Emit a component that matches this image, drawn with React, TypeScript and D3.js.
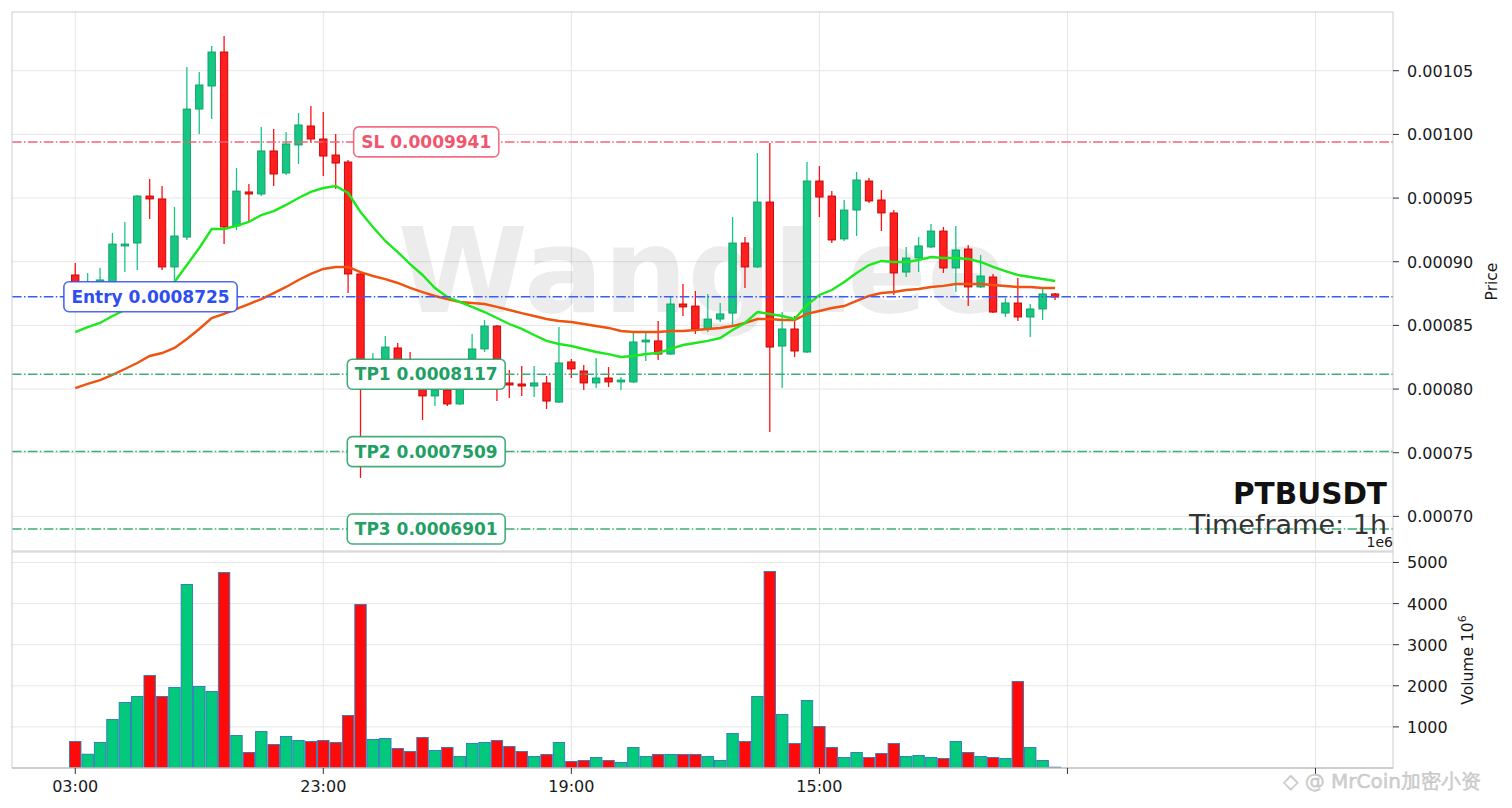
import { useEffect, useRef, useState } from 'react'
import * as d3 from 'd3'

// hourly candles, first one at 03:00
const symbol = 'PTBUSDT'
const timeframe = '1h'

const opens = [
  0.0008896, 0.0008762, 0.0008794, 0.0008825, 0.0009124, 0.0009147, 0.0009516, 0.0009493, 0.0008959, 0.0009194,
  0.0010199, 0.001038, 0.0010647, 0.0009281, 0.0009548, 0.0009532, 0.000987, 0.0009697, 0.0009917, 0.0010066,
  0.0009964, 0.0009838, 0.0009783, 0.0008904, 0.0008134, 0.0008134, 0.0008323, 0.0008165, 0.0008071, 0.0007946,
  0.0007993, 0.0007883, 0.0008087, 0.0008315, 0.0008495, 0.0008048, 0.000804, 0.0008024, 0.0008048, 0.0007898,
  0.0008213, 0.0008142, 0.0008048, 0.0008087, 0.0008056, 0.0008056, 0.000837, 0.0008378, 0.0008275, 0.0008668,
  0.0008652, 0.0008472, 0.000855, 0.0008597, 0.0009147, 0.0008959, 0.0009469, 0.0008338, 0.0008472, 0.0008291,
  0.0009634, 0.0009516, 0.0009179, 0.0009406, 0.0009634, 0.0009485, 0.0009383, 0.0008919, 0.0009029, 0.0009116,
  0.0009241, 0.0008951, 0.00091, 0.0008802, 0.000888, 0.0008597, 0.0008676, 0.0008566, 0.0008629, 0.0008747,
]
const highs = [
  0.000899, 0.0008912, 0.0008951, 0.0009226, 0.0009312, 0.0009524, 0.000965, 0.0009595, 0.000943, 0.0010529,
  0.001049, 0.0010694, 0.0010773, 0.0009736, 0.000961, 0.0010058, 0.0010042, 0.0010019, 0.0010168, 0.0010223,
  0.0010176, 0.0010003, 0.0009799, 0.0008919, 0.0008283, 0.0008417, 0.0008362, 0.0008291, 0.0008103, 0.0008032,
  0.0008024, 0.0008134, 0.0008433, 0.0008542, 0.0008503, 0.000815, 0.0008181, 0.0008181, 0.0008103, 0.0008487,
  0.0008236, 0.0008189, 0.0008244, 0.0008173, 0.0008095, 0.000844, 0.0008448, 0.0008535, 0.0008731, 0.0008825,
  0.000877, 0.0008747, 0.0008676, 0.0009351, 0.0009194, 0.0009854, 0.0009932, 0.0008605, 0.0008574, 0.0009783,
  0.0009752, 0.0009555, 0.0009485, 0.0009705, 0.0009658, 0.0009563, 0.0009406, 0.0009116, 0.0009194, 0.0009296,
  0.0009273, 0.0009281, 0.0009131, 0.0009053, 0.0008904, 0.0008715, 0.0008872, 0.0008668, 0.0008786, 0.0008754,
]
const lows = [
  0.0008731, 0.0008715, 0.0008747, 0.0008778, 0.0008919, 0.0008935, 0.0009336, 0.0008935, 0.0008841, 0.0009171,
  0.0010003, 0.0010121, 0.0009139, 0.0009249, 0.0009312, 0.0009516, 0.0009595, 0.0009681, 0.0009768, 0.0009932,
  0.0009673, 0.0009571, 0.0008754, 0.0007302, 0.0008087, 0.0008071, 0.0008087, 0.000804, 0.0007757, 0.0007867,
  0.0007867, 0.0007875, 0.0008056, 0.0008291, 0.0007906, 0.000793, 0.0007946, 0.0007938, 0.0007844, 0.0007891,
  0.0008087, 0.0007993, 0.0008008, 0.0008016, 0.0007993, 0.0008048, 0.000822, 0.0008228, 0.0008268, 0.0008574,
  0.0008433, 0.0008448, 0.0008527, 0.0008503, 0.0008794, 0.0008951, 0.0007663, 0.0008008, 0.0008252, 0.0008283,
  0.0009351, 0.0009147, 0.0009163, 0.0009202, 0.0009461, 0.0009241, 0.0008739, 0.000888, 0.0008919, 0.0009108,
  0.0008912, 0.0008762, 0.0008652, 0.0008794, 0.0008597, 0.0008566, 0.0008535, 0.0008409, 0.0008542, 0.00087,
]
const closes = [
  0.0008778, 0.0008825, 0.0008857, 0.0009139, 0.0009139, 0.0009516, 0.0009493, 0.0008959, 0.0009202, 0.0010199,
  0.0010388, 0.0010647, 0.0009273, 0.0009555, 0.0009532, 0.000987, 0.0009689, 0.0009925, 0.0010074, 0.0009964,
  0.000983, 0.0009775, 0.0008904, 0.000815, 0.0008213, 0.000833, 0.000815, 0.0008087, 0.0007946, 0.0007993,
  0.0007883, 0.0008087, 0.0008315, 0.0008495, 0.0008134, 0.0008032, 0.0008024, 0.0008048, 0.0007906, 0.0008205,
  0.0008158, 0.0008048, 0.0008087, 0.0008056, 0.0008071, 0.000837, 0.0008385, 0.0008275, 0.0008668, 0.0008645,
  0.0008472, 0.000855, 0.000859, 0.0009147, 0.0008959, 0.0009469, 0.000833, 0.0008472, 0.0008299, 0.0009634,
  0.0009508, 0.0009171, 0.0009406, 0.0009642, 0.0009477, 0.0009383, 0.0008912, 0.0009029, 0.0009124, 0.0009241,
  0.0008951, 0.0009092, 0.0008802, 0.0008888, 0.0008605, 0.0008676, 0.0008566, 0.0008629, 0.0008747, 0.0008723,
]
// volume in millions (axis shows x1e6)
const volumes = [
  645, 336, 620, 1180, 1594, 1740, 2250, 1740, 1959, 4465,
  1983, 1861, 4757, 791, 377, 888, 572, 766, 669, 645,
  669, 620, 1277, 3978, 693, 718, 474, 401, 742, 426,
  499, 280, 596, 620, 669, 523, 401, 280, 328, 620,
  158, 182, 255, 182, 134, 499, 280, 328, 328, 328,
  328, 280, 182, 839, 645, 1740, 4781, 1302, 596, 1642,
  1010, 499, 255, 377, 255, 353, 596, 280, 304, 255,
  231, 645, 377, 280, 255, 231, 2105, 499, 182, 20,
]
const maFast = [
  0.0008448, 0.0008487, 0.0008519, 0.0008574, 0.0008621, 0.0008676, 0.0008723, 0.0008786, 0.0008841, 0.0008974,
  0.0009108, 0.0009257, 0.0009257, 0.0009281, 0.0009312, 0.0009367, 0.0009398, 0.0009446, 0.0009501, 0.0009548,
  0.0009579, 0.0009595, 0.000954, 0.0009391, 0.0009273, 0.0009163, 0.0009076, 0.0008982, 0.0008896, 0.0008794,
  0.0008723, 0.0008684, 0.0008645, 0.0008605, 0.0008558, 0.0008511, 0.0008472, 0.0008425, 0.0008378, 0.0008354,
  0.0008338, 0.0008315, 0.0008291, 0.0008275, 0.0008252, 0.000826, 0.0008275, 0.0008283, 0.0008315, 0.0008346,
  0.0008362, 0.0008378, 0.0008401, 0.0008464, 0.0008519, 0.0008605, 0.000859, 0.0008574, 0.000855, 0.000866,
  0.0008739, 0.0008778, 0.0008841, 0.0008912, 0.0008974, 0.0009006, 0.0008998, 0.0008998, 0.0009014, 0.0009037,
  0.0009029, 0.0009029, 0.0009022, 0.0008998, 0.0008959, 0.0008927, 0.0008896, 0.000888, 0.0008864, 0.0008849,
]
const maSlow = [
  0.0008008, 0.000804, 0.0008071, 0.0008111, 0.0008158, 0.0008205, 0.000826, 0.0008283, 0.0008323, 0.0008393,
  0.0008472, 0.0008558, 0.000859, 0.0008629, 0.0008668, 0.0008707, 0.0008754, 0.0008802, 0.0008857, 0.0008904,
  0.0008943, 0.0008959, 0.0008959, 0.0008919, 0.0008888, 0.0008864, 0.0008833, 0.0008794, 0.0008762, 0.0008731,
  0.0008707, 0.0008684, 0.0008676, 0.0008668, 0.0008645, 0.0008621, 0.0008597, 0.0008574, 0.000855, 0.0008535,
  0.0008527, 0.0008511, 0.0008495, 0.000848, 0.0008456, 0.0008448, 0.0008448, 0.0008448, 0.0008456, 0.0008456,
  0.0008464, 0.0008472, 0.000848, 0.0008495, 0.0008519, 0.000855, 0.000855, 0.0008542, 0.0008542, 0.000859,
  0.0008613, 0.0008637, 0.0008652, 0.0008692, 0.0008731, 0.0008754, 0.0008762, 0.0008778, 0.0008786, 0.0008802,
  0.000881, 0.0008825, 0.0008825, 0.0008825, 0.0008817, 0.000881, 0.0008802, 0.0008802, 0.0008794, 0.0008794,
]

const xTickIdx = [0, 20, 40, 60, 80, 100]
const xTickLabels = ['03:00', '23:00', '19:00', '15:00', '', '']
const priceTicks = [0.0007, 0.00075, 0.0008, 0.00085, 0.0009, 0.00095, 0.001, 0.00105]
const volTicks = [1000, 2000, 3000, 4000, 5000]

const levelNames = ['SL', 'Entry', 'TP1', 'TP2', 'TP3']
const levelValues = [0.0009941, 0.0008725, 0.0008117, 0.0007509, 0.0006901]
const levelColors = ['#f0566e', '#2f4ef0', '#22a064', '#22a064', '#22a064']
const levelLineColors = ['#f26478', '#3a5cff', '#3cae76', '#3cae76', '#3cae76']
const levelTagIdx = [28.3, 6.07, 28.3, 28.3, 28.3]

const W = 1512
const H = 808
const L = 12
const R = 1393
const PT = 12
const PB = 551
const VT = 552
const VB = 768
const font = 'DejaVu Sans, sans-serif'

const GREEN = '#16c784'
const GREEN_EDGE = '#0f9e62'
const RED = '#ff1f1f'
const RED_EDGE = '#c40000'

function LevelTag({ cx, cy, text, color }: { cx: number; cy: number; text: string; color: string }) {
  const ref = useRef<SVGTextElement>(null)
  const [tw, setTw] = useState(text.length * 10.5)
  useEffect(() => {
    if (ref.current) setTw(ref.current.getComputedTextLength())
  }, [text])
  const bw = tw + 15
  return (
    <g>
      <rect x={cx - bw / 2} y={cy - 15} width={bw} height={30} rx={5} fill="white" stroke={color} strokeWidth={1.6} strokeOpacity={0.85} />
      <text ref={ref} x={cx} y={cy + 6} textAnchor="middle" fill={color} fontWeight="bold" fontSize={17}>
        {text}
      </text>
    </g>
  )
}

export default function App() {
  const x = d3.scaleLinear().domain([-5.1, 106.25]).range([L, R])
  const y = d3.scaleLinear().domain([0.00067284, 0.00109612]).range([PB, PT])
  const yv = d3.scaleLinear().domain([0, 5255]).range([VB, VT])

  const bodyW = 7.4
  const barW = 11.4

  const maLine = d3
    .line<number>()
    .x((_, i) => x(i))
    .y((d) => y(d))

  const up = (i: number) => closes[i] >= opens[i]

  return (
    <div style={{ position: 'absolute', left: 0, top: 0, width: W, height: H, background: 'white' }}>
      <svg width={W} height={H} style={{ fontFamily: font, display: 'block' }}>
        <defs>
          <clipPath id="pclip">
            <rect x={L} y={PT} width={R - L} height={PB - PT} />
          </clipPath>
          <clipPath id="vclip">
            <rect x={L} y={VT} width={R - L} height={VB - VT} />
          </clipPath>
        </defs>

        {/* grid */}
        <g stroke="#e6e6e6" strokeWidth={1}>
          {priceTicks.map((t) => (
            <line key={'pg' + t} x1={L} x2={R} y1={y(t)} y2={y(t)} />
          ))}
          {volTicks.map((t) => (
            <line key={'vg' + t} x1={L} x2={R} y1={yv(t)} y2={yv(t)} />
          ))}
          {xTickIdx.map((t) => (
            <g key={'xg' + t}>
              <line x1={x(t)} x2={x(t)} y1={PT} y2={PB} />
              <line x1={x(t)} x2={x(t)} y1={VT} y2={VB} />
            </g>
          ))}
        </g>

        {/* watermark */}
        <text
          x={(L + R) / 2}
          y={312}
          textAnchor="middle"
          fontSize={118}
          fontWeight="bold"
          fill="#000"
          fillOpacity={0.075}
        >
          WangLee
        </text>

        {/* volume */}
        <g clipPath="url(#vclip)">
          {volumes.map((v, i) => (
            <rect
              key={'v' + i}
              x={x(i) - barW / 2}
              y={yv(v)}
              width={barW}
              height={yv(0) - yv(v)}
              fill={up(i) ? '#02c97b' : '#ff0a0a'}
              stroke="#2a7ab8"
              strokeWidth={0.9}
            />
          ))}
        </g>

        {/* candles */}
        <g clipPath="url(#pclip)">
          {opens.map((o, i) => {
            const c = closes[i]
            const isUp = up(i)
            const top = y(Math.max(o, c))
            const bot = y(Math.min(o, c))
            return (
              <g key={'c' + i}>
                <line
                  x1={x(i)}
                  x2={x(i)}
                  y1={y(highs[i])}
                  y2={y(lows[i])}
                  stroke={isUp ? GREEN : '#ff1010'}
                  strokeWidth={1.3}
                />
                <rect
                  x={x(i) - bodyW / 2}
                  y={top}
                  width={bodyW}
                  height={Math.max(bot - top, 1.6)}
                  fill={isUp ? GREEN : RED}
                  stroke={isUp ? GREEN_EDGE : RED_EDGE}
                  strokeWidth={0.9}
                />
              </g>
            )
          })}

          <path d={maLine(maSlow) || undefined} fill="none" stroke="#f0520f" strokeWidth={2.4} />
          <path d={maLine(maFast) || undefined} fill="none" stroke="#1de81d" strokeWidth={2.4} />

          {levelValues.map((v, k) => (
            <line
              key={'lv' + k}
              x1={L}
              x2={R}
              y1={y(v)}
              y2={y(v)}
              stroke={levelLineColors[k]}
              strokeWidth={1.5}
              strokeDasharray="9.6,2.4,1.5,2.4"
            />
          ))}
        </g>

        {/* frame */}
        <g fill="none" stroke="#cdcdcd" strokeWidth={1}>
          <rect x={L} y={PT} width={R - L} height={PB - PT} />
          <rect x={L} y={VT} width={R - L} height={VB - VT} />
        </g>
        <line x1={L} x2={R} y1={VB} y2={VB} stroke="#b5b5b5" strokeWidth={1.2} />

        {/* price axis */}
        {priceTicks.map((t) => (
          <g key={'pt' + t}>
            <line x1={R} x2={R + 6} y1={y(t)} y2={y(t)} stroke="#333" strokeWidth={1} />
            <text x={R + 14} y={y(t) + 6} fontSize={16} fill="#1a1a1a">
              {t.toFixed(5)}
            </text>
          </g>
        ))}
        <text
          transform={`translate(${1497},${(PT + PB) / 2}) rotate(-90)`}
          textAnchor="middle"
          fontSize={15.5}
          fill="#1a1a1a"
        >
          Price
        </text>

        {/* volume axis */}
        {volTicks.map((t) => (
          <g key={'vt' + t}>
            <line x1={R} x2={R + 6} y1={yv(t)} y2={yv(t)} stroke="#333" strokeWidth={1} />
            <text x={R + 14} y={yv(t) + 6} fontSize={16} fill="#1a1a1a">
              {t}
            </text>
          </g>
        ))}
        <text
          transform={`translate(${1473},${(VT + VB) / 2}) rotate(-90)`}
          textAnchor="middle"
          fontSize={15.5}
          fill="#1a1a1a"
        >
          Volume{'  '}10
          <tspan fontSize={11} dy={-7}>
            6
          </tspan>
        </text>
        <text x={R} y={547} textAnchor="end" fontSize={14} fill="#1a1a1a">
          1e6
        </text>

        {/* time axis */}
        {xTickIdx.map((t, k) => (
          <g key={'xt' + t}>
            <line x1={x(t)} x2={x(t)} y1={VB} y2={VB + 6} stroke="#333" strokeWidth={1} />
            <text x={x(t)} y={792} textAnchor="middle" fontSize={16} fill="#1a1a1a">
              {xTickLabels[k]}
            </text>
          </g>
        ))}

        {/* level tags */}
        {levelValues.map((v, k) => (
          <LevelTag
            key={'tag' + k}
            cx={x(levelTagIdx[k])}
            cy={y(v)}
            text={`${levelNames[k]} ${v.toFixed(7)}`}
            color={levelColors[k]}
          />
        ))}

        {/* symbol / timeframe */}
        <text x={1387} y={504} textAnchor="end" fontSize={29.5} fontWeight="bold" fill="#111">
          {symbol}
        </text>
        <text x={1387} y={534} textAnchor="end" fontSize={27} fill="#333">
          Timeframe: {timeframe}
        </text>

        {/* corner watermark */}
        <text x={1283} y={788} fontSize={20} fill="#d2d2d2" stroke="#bbb" strokeWidth={0.4}>
          ◇ @ MrCoin加密小资
        </text>
      </svg>
    </div>
  )
}
